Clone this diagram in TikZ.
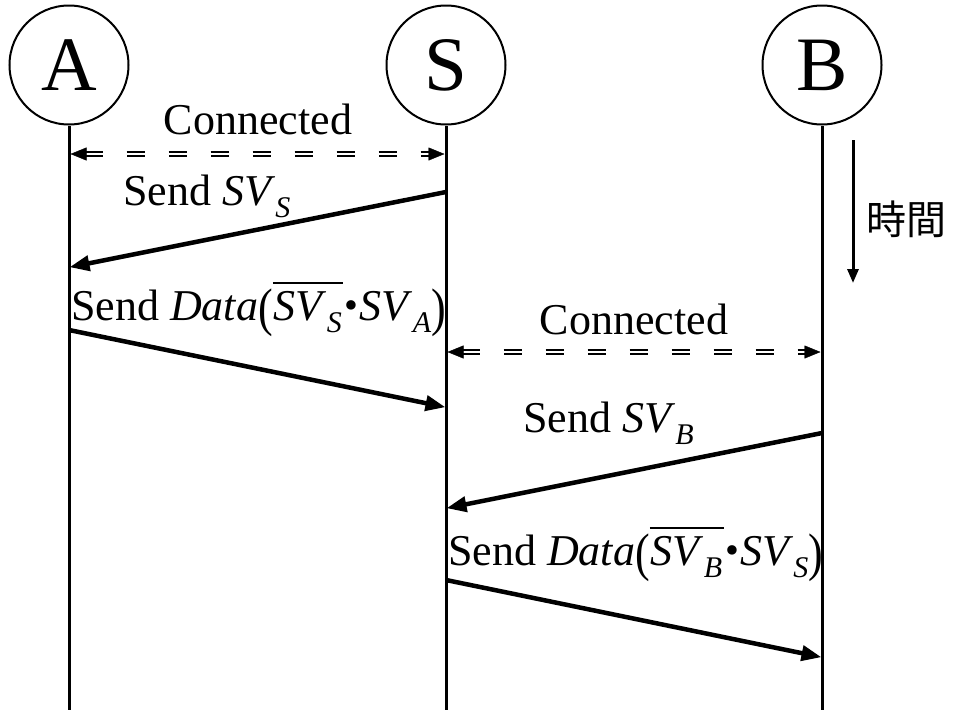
\documentclass[tikz,border=0pt]{standalone}
\usepackage{fontspec}
\usepackage{graphicx}
\setmainfont{Liberation Serif}
\newfontfamily\cjkfont{Noto Sans CJK JP}
\usetikzlibrary{arrows.meta,calc}

% lowered italic subscript used in the message labels
\newcommand\lowsub[1]{\raisebox{-0.28em}{\fontsize{30}{30}\selectfont\itshape #1}}
% bar set well above its argument, reaching a little past it on both sides
\newcommand\ovl[1]{\vbox{\hrule height 1.8pt \kern 7pt \hbox{\kern1pt#1\kern1.5pt}}}
\newcommand\sv{\textit{SV}}
\newcommand\lpar{\raisebox{-0.12em}{\scalebox{1}[1.2]{(}}}
\newcommand\rpar{\raisebox{-0.12em}{\scalebox{1}[1.2]{)}}}
\newcommand\bdot{\kern1.5pt\raisebox{0.03em}{\scalebox{0.9}{•}}\kern1pt}

\tikzset{
  party/.style={circle, draw, line width=2pt, minimum size=119pt, inner sep=0pt,
                font=\fontsize{77}{77}\selectfont},
  lifeline/.style={line width=3pt},
  msg/.style={line width=4.5pt, -{Triangle[length=20pt,width=15pt]}, shorten >=-1pt},
  link/.style={line width=1.6pt, double distance=2.4pt, dash pattern=on 18pt off 24pt},
  linktip/.style={-{Triangle[length=16pt,width=13pt]}},
  lbl/.style={anchor=base west, inner sep=0pt, font=\fontsize{44}{44}\selectfont},
}

\begin{document}
\begin{tikzpicture}[x=1pt,y=-1pt]
\useasboundingbox (0,0) rectangle (954,710);

% participants
\node[party] (A) at (69,65) {A};
\node[party] (S) at (446,65) {S};
\node[party] (B) at (822,65) {B};

% lifelines
\coordinate (Aend) at (69,712);
\coordinate (Send) at (446,712);
\coordinate (Bend) at (822,712);
\draw[lifeline] (A.south) -- (Aend);
\draw[lifeline] (S.south) -- (Send);
\draw[lifeline] (B.south) -- (Bend);

% message end points on the lifelines
\coordinate (c1a) at (70.5,154);  \coordinate (c1s) at (444.5,154);
\coordinate (m1s) at (446,192);   \coordinate (m1a) at (70.5,267);
\coordinate (m2a) at (69,330);    \coordinate (m2s) at (444.5,407);
\coordinate (c2s) at (447.5,352); \coordinate (c2b) at (820.5,352);
\coordinate (m3b) at (822,433);   \coordinate (m3s) at (447.5,508);
\coordinate (m4s) at (446,580);   \coordinate (m4b) at (820.5,657);

% connection between A and S
\draw[link] ($(c1a)+(14,0)$) -- ($(c1s)+(-14,0)$);
\draw[linktip] ($(c1a)+(14,0)$) -- (c1a);
\draw[linktip] ($(c1s)+(-14,0)$) -- (c1s);
\node[lbl, anchor=base] (t1) at (258,134) {Connected};

% S sends SV_S to A
\draw[msg] (m1s) -- (m1a);
\node[lbl] (t2) at (123,205) {Send \sv\lowsub{S}};

% A sends data to S
\draw[msg] (m2a) -- (m2s);
\node[lbl] (t3) at (71,320) {Send \textit{Data}\lpar\ovl{\sv\lowsub{S}}\bdot\sv\lowsub{A}\rpar};

% connection between S and B
\draw[link] ($(c2s)+(14,0)$) -- ($(c2b)+(-14,0)$);
\draw[linktip] ($(c2s)+(14,0)$) -- (c2s);
\draw[linktip] ($(c2b)+(-14,0)$) -- (c2b);
\node[lbl, anchor=base] (t4) at (634,334) {Connected};

% B sends SV_B to S
\draw[msg] (m3b) -- (m3s);
\node[lbl] (t5) at (523,432) {Send \sv\lowsub{B}};

% S sends data to B
\draw[msg] (m4s) -- (m4b);
\node[lbl] (t6) at (448,565) {Send \textit{Data}\lpar\ovl{\sv\lowsub{B}}\bdot\sv\lowsub{S}\rpar};

% time axis
\coordinate (tt) at (853,140);
\coordinate (tb) at (853,283);
\draw[line width=3pt, -{Triangle[length=14pt,width=11pt]}] (tt) -- (tb);
\node[anchor=west, inner sep=0pt, font=\cjkfont\fontsize{40}{40}\selectfont] (time) at (866,219) {時間};
\end{tikzpicture}
\end{document}
